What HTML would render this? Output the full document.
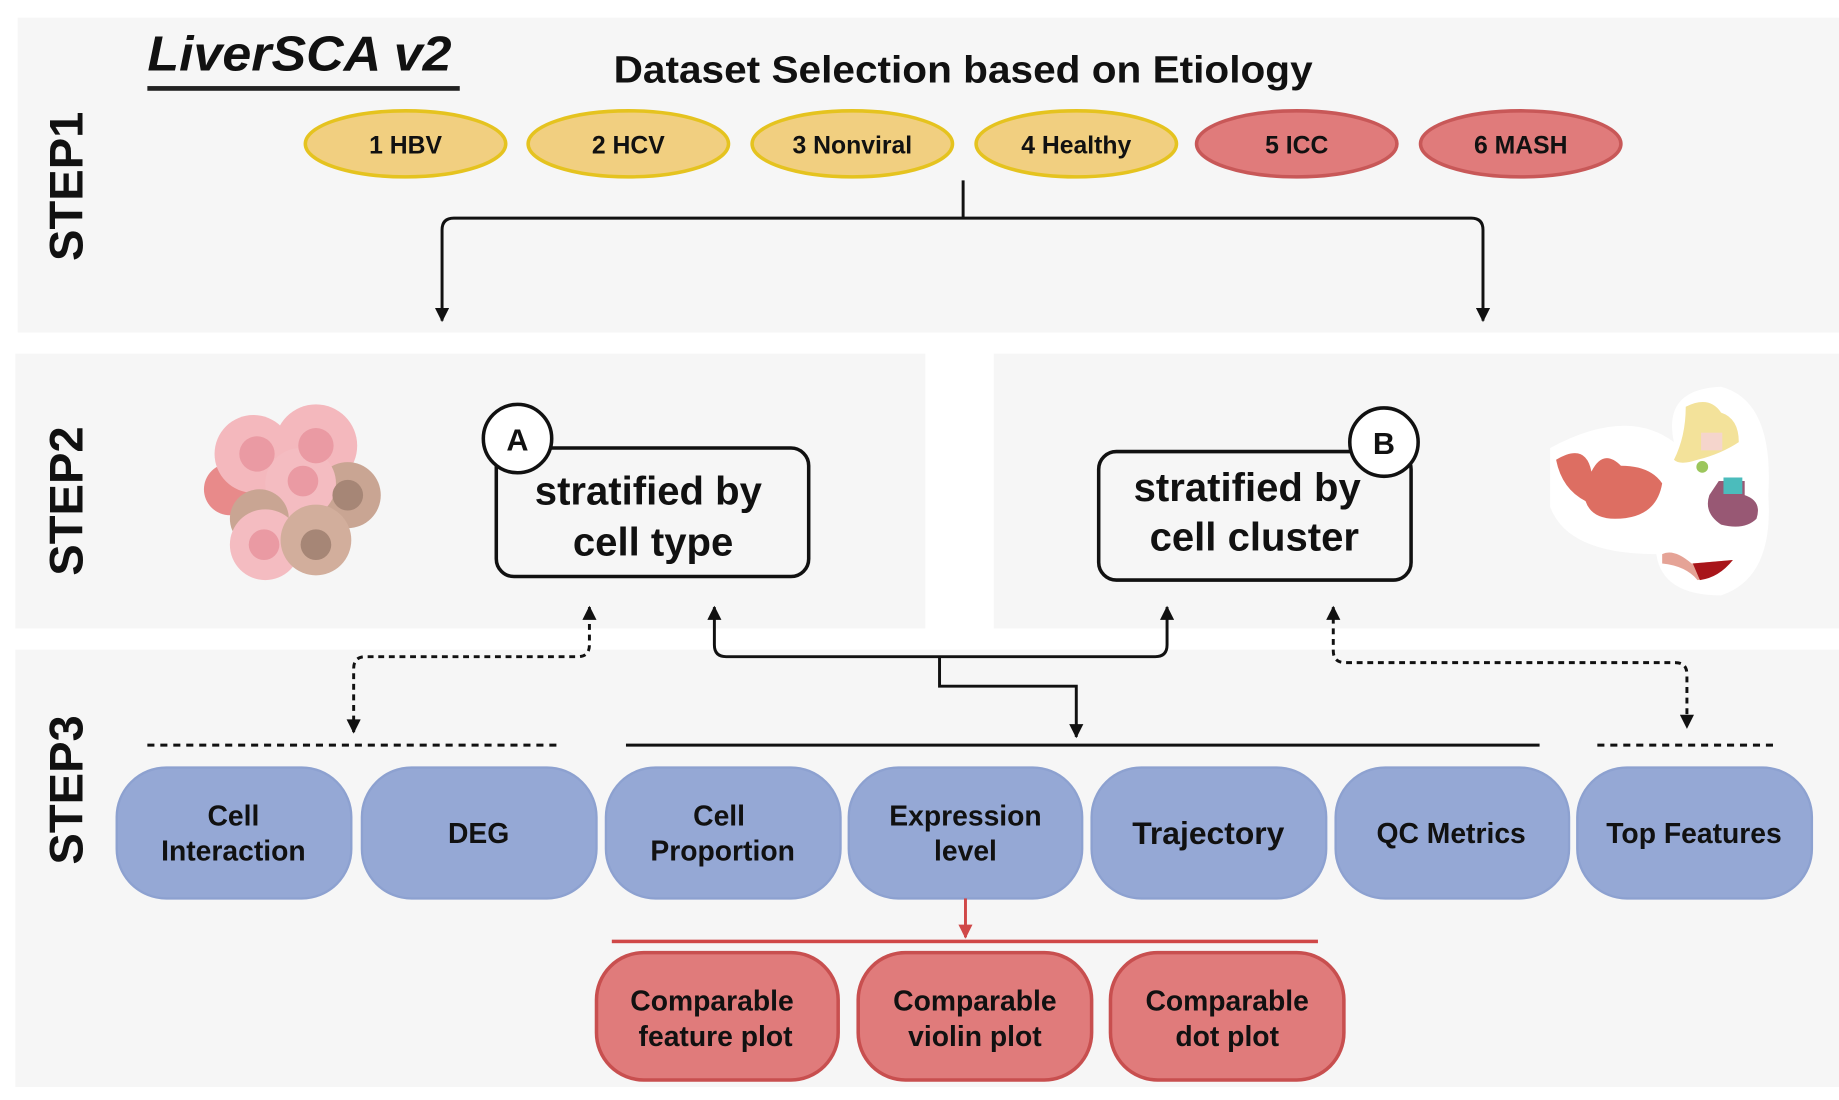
<!DOCTYPE html>
<html><head><meta charset="utf-8"><style>
html,body{margin:0;padding:0;background:#fff;}
svg{display:block;}
text{font-family:"Liberation Sans",sans-serif;font-weight:bold;fill:#111;}
</style></head><body>
<svg width="1839" height="1100" viewBox="0 0 1560 933" preserveAspectRatio="none" xmlns="http://www.w3.org/2000/svg">
<defs>
<marker id="ah" viewBox="0 0 10 10" refX="9" refY="5" markerWidth="14" markerHeight="12" orient="auto-start-reverse" markerUnits="userSpaceOnUse"><path d="M0,0 L10,5 L0,10 z" fill="#111"/></marker>
<marker id="ar" viewBox="0 0 10 10" refX="9" refY="5" markerWidth="14" markerHeight="12" orient="auto" markerUnits="userSpaceOnUse"><path d="M0,0 L10,5 L0,10 z" fill="#d04848"/></marker>
</defs>
<rect width="1560" height="933" fill="#fff"/>
<rect x="15" y="15" width="1545" height="267" fill="#f6f6f6"/>
<rect x="13" y="300" width="772" height="233" fill="#f6f6f6"/>
<rect x="843" y="300" width="717" height="233" fill="#f6f6f6"/>
<rect x="13" y="551" width="1547" height="371" fill="#f6f6f6"/>

<text transform="translate(70,158) rotate(-90)" font-size="40" text-anchor="middle">STEP1</text>
<text transform="translate(70,425) rotate(-90)" font-size="40" text-anchor="middle">STEP2</text>
<text transform="translate(70,670) rotate(-90)" font-size="40" text-anchor="middle">STEP3</text>

<text x="125" y="60" font-size="42" font-style="italic" textLength="258" lengthAdjust="spacingAndGlyphs">LiverSCA v2</text>
<rect x="125" y="73" width="265" height="4" fill="#222"/>
<text x="817" y="70" font-size="32" text-anchor="middle" textLength="593" lengthAdjust="spacingAndGlyphs">Dataset Selection based on Etiology</text>

<g stroke-width="3">
<ellipse cx="344" cy="122" rx="85" ry="28" fill="#f1cf80" stroke="#e5c31f"/>
<ellipse cx="533" cy="122" rx="85" ry="28" fill="#f1cf80" stroke="#e5c31f"/>
<ellipse cx="723" cy="122" rx="85" ry="28" fill="#f1cf80" stroke="#e5c31f"/>
<ellipse cx="913" cy="122" rx="85" ry="28" fill="#f1cf80" stroke="#e5c31f"/>
<ellipse cx="1100" cy="122" rx="85" ry="28" fill="#e07b7b" stroke="#c85858"/>
<ellipse cx="1290" cy="122" rx="85" ry="28" fill="#e07b7b" stroke="#c85858"/>
</g>
<g font-size="21" text-anchor="middle">
<text x="344" y="130">1 HBV</text><text x="533" y="130">2 HCV</text><text x="723" y="130">3 Nonviral</text>
<text x="913" y="130">4 Healthy</text><text x="1100" y="130">5 ICC</text><text x="1290" y="130">6 MASH</text>
</g>

<g fill="none" stroke="#111" stroke-width="2.5">
<path d="M817,153 V185"/>
<path d="M375,272 V195 Q375,185 385,185 H1248 Q1258,185 1258,195 V272" marker-start="url(#ah)" marker-end="url(#ah)"/>
<path d="M606,515 V547 Q606,557 616,557 H980 Q990,557 990,547 V515" marker-start="url(#ah)" marker-end="url(#ah)"/>
<path d="M797,557 V582 H913 V625" marker-end="url(#ah)"/>
<path d="M300,621 V567 Q300,557 310,557 H490 Q500,557 500,547 V515" stroke-dasharray="5,4" marker-start="url(#ah)" marker-end="url(#ah)"/>
<path d="M1131,515 V552 Q1131,562 1141,562 H1421 Q1431,562 1431,572 V617" stroke-dasharray="5,4" marker-start="url(#ah)" marker-end="url(#ah)"/>
<path d="M125,632 H475" stroke-dasharray="6,5"/>
<path d="M531,632 H1306"/>
<path d="M1355,632 H1505" stroke-dasharray="6,5"/>
</g>

<g>
<circle cx="195" cy="415" r="22" fill="#e88a8a"/>
<circle cx="215" cy="385" r="33" fill="#f4b8bd"/>
<circle cx="268" cy="378" r="35" fill="#f4b8bd"/>
<circle cx="295" cy="420" r="28" fill="#c9a593"/>
<circle cx="255" cy="410" r="30" fill="#f4bcc1"/>
<circle cx="220" cy="440" r="25" fill="#c9a593"/>
<circle cx="225" cy="462" r="30" fill="#f4bcc1"/>
<circle cx="268" cy="458" r="30" fill="#d2ae9c"/>
<circle cx="218" cy="385" r="15" fill="#ea9aa3"/>
<circle cx="268" cy="378" r="15" fill="#ea9aa3"/>
<circle cx="257" cy="408" r="13" fill="#ea9aa3"/>
<circle cx="295" cy="420" r="13" fill="#a68676"/>
<circle cx="224" cy="462" r="13" fill="#ea9aa3"/>
<circle cx="268" cy="462" r="13" fill="#a68676"/>
</g>
<g>
<path d="M1315,380 Q1380,345 1420,375 Q1410,330 1460,328 Q1505,340 1500,420 Q1505,490 1460,505 Q1410,505 1405,470 Q1330,470 1315,430 Z" fill="#fff"/>
<path d="M1320,390 Q1345,375 1350,400 Q1360,380 1375,395 Q1400,395 1410,410 Q1405,440 1370,440 Q1350,440 1345,425 Q1325,415 1320,390 Z" fill="#dd6e62"/>
<path d="M1430,345 Q1450,335 1460,350 Q1475,355 1475,375 Q1460,385 1440,390 Q1425,395 1420,390 Q1430,370 1430,345 Z" fill="#f3e29a"/>
<rect x="1443" y="367" width="18" height="15" fill="#f5d5cc"/>
<circle cx="1444" cy="396" r="5" fill="#9cc65c"/>
<path d="M1458,408 H1480 V420 Q1495,425 1490,440 Q1480,450 1460,445 Q1445,435 1450,420 Z" fill="#985874"/>
<rect x="1462" y="405" width="16" height="14" fill="#4bbcbc"/>
<path d="M1410,470 Q1420,465 1435,478 L1470,475 Q1455,490 1440,492 Q1430,480 1410,478 Z" fill="#e5a396"/>
<path d="M1436,478 L1470,475 Q1458,490 1442,492 Z" fill="#a8151a"/>
</g>

<g fill="#f6f6f6" stroke="#111" stroke-width="3">
<rect x="421" y="380" width="265" height="109" rx="15"/>
<rect x="932" y="383" width="265" height="109" rx="15"/>
<circle cx="439" cy="372" r="29" fill="#fff"/>
<circle cx="1174" cy="375" r="29" fill="#fff"/>
</g>
<text x="439" y="382" font-size="26" font-weight="normal" text-anchor="middle">A</text>
<text x="1174" y="385" font-size="26" font-weight="normal" text-anchor="middle">B</text>
<g font-size="34" text-anchor="middle">
<text x="550" y="428">stratified by</text><text x="554" y="471">cell type</text>
<text x="1058" y="425">stratified by</text><text x="1064" y="467">cell cluster</text>
</g>

<g fill="#95a8d5" stroke="#8da1d0" stroke-width="2">
<rect x="99" y="651" width="199" height="111" rx="42"/>
<rect x="307" y="651" width="199" height="111" rx="42"/>
<rect x="514" y="651" width="199" height="111" rx="42"/>
<rect x="720" y="651" width="198" height="111" rx="42"/>
<rect x="926" y="651" width="199" height="111" rx="42"/>
<rect x="1133" y="651" width="198" height="111" rx="42"/>
<rect x="1338" y="651" width="199" height="111" rx="42"/>
</g>
<g font-size="24" text-anchor="middle">
<text x="198" y="700">Cell</text><text x="198" y="730">Interaction</text>
<text x="406" y="715">DEG</text>
<text x="610" y="700">Cell</text><text x="613" y="730">Proportion</text>
<text x="819" y="700">Expression</text><text x="819" y="730">level</text>
<text x="1025" y="716" font-size="27">Trajectory</text>
<text x="1231" y="715">QC Metrics</text>
<text x="1437" y="715">Top Features</text>
</g>

<path d="M819,762 V795" stroke="#d04848" stroke-width="2.5" marker-end="url(#ar)"/>
<rect x="519" y="797" width="599" height="3" fill="#d04848"/>
<g fill="#e07b7b" stroke="#c84f4f" stroke-width="3">
<rect x="506" y="808" width="205" height="108" rx="40"/>
<rect x="728" y="808" width="198" height="108" rx="40"/>
<rect x="942" y="808" width="198" height="108" rx="40"/>
</g>
<g font-size="24" text-anchor="middle">
<text x="604" y="857">Comparable</text><text x="607" y="887">feature plot</text>
<text x="827" y="857">Comparable</text><text x="827" y="887">violin plot</text>
<text x="1041" y="857">Comparable</text><text x="1041" y="887">dot plot</text>
</g>
</svg>
</body></html>
